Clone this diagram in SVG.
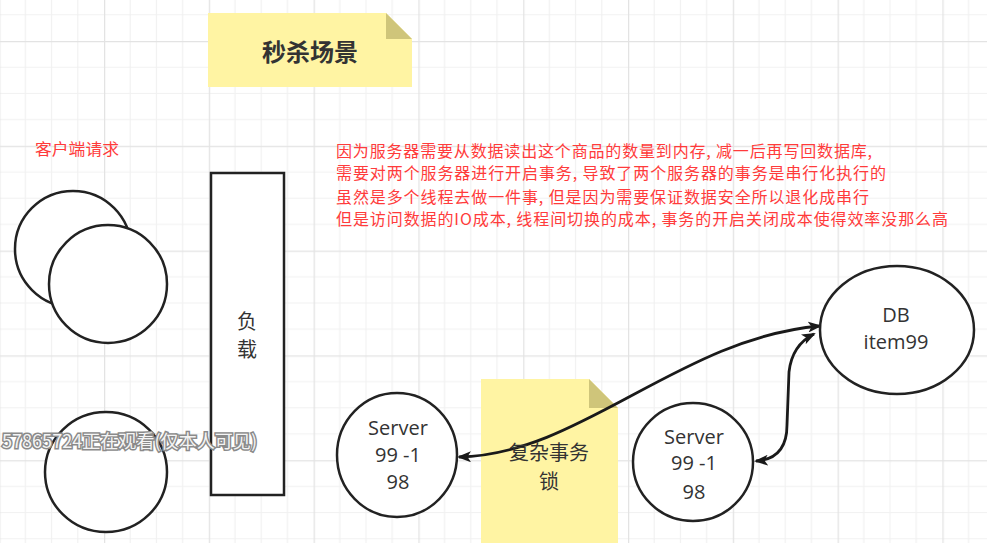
<svg xmlns="http://www.w3.org/2000/svg" width="987" height="543" viewBox="0 0 987 543">
<defs>
<pattern id="grid" x="104" y="41" width="104.8" height="104.8" patternUnits="userSpaceOnUse">
<path d="M26.2 0V104.8M52.4 0V104.8M78.6 0V104.8M0 26.2H104.8M0 52.4H104.8M0 78.6H104.8" stroke="#f1f1f1" stroke-width="1.2" fill="none"/>
<path d="M0.5 0V104.8M0 0.5H104.8" stroke="#e3e3e3" stroke-width="1.5" fill="none"/>
</pattern>
<marker id="arr" viewBox="0 0 14 11" refX="12" refY="5.5" markerWidth="14" markerHeight="11" markerUnits="userSpaceOnUse" orient="auto-start-reverse">
<path d="M0 0L14 5.5L0 11L3.5 5.5Z" fill="#1a1a1a"/>
</marker>
<style>
.shape{fill:#fff;stroke:#222;stroke-width:2.5}
.note{fill:#fff4a3}
.fold{fill:#cfc57a}
.lbl{font-family:"Open Sans","Noto Sans","Noto Sans CJK SC",sans-serif;font-size:20px;fill:#333;text-anchor:middle}
.red{font-family:"Noto Sans CJK SC","Noto Sans",sans-serif;font-size:16px;fill:#ff3b3b}
.edge{fill:none;stroke:#1a1a1a;stroke-width:2.8;marker-start:url(#arr);marker-end:url(#arr)}
</style>
</defs>
<rect width="987" height="543" fill="#fff"/>
<rect width="987" height="543" fill="url(#grid)"/>

<g id="title">
<path class="note" d="M208 13H386L412 39V87H208Z"/>
<path class="fold" d="M386 13L412 39H386Z"/>
<text x="310" y="61" text-anchor="middle" font-family="Noto Sans CJK SC,sans-serif" font-size="24" font-weight="bold" fill="#333">秒杀场景</text>
</g>

<g id="client-label">
<text class="red" x="35" y="155" textLength="84" lengthAdjust="spacingAndGlyphs">客户端请求</text>
</g>

<g id="explanation">
<text class="red" x="336" y="156.5" textLength="536" lengthAdjust="spacing">因为服务器需要从数据读出这个商品的数量到内存, 减一后再写回数据库,</text>
<text class="red" x="336" y="179" textLength="550" lengthAdjust="spacing">需要对两个服务器进行开启事务, 导致了两个服务器的事务是串行化执行的</text>
<text class="red" x="336" y="202.5" textLength="533" lengthAdjust="spacing">虽然是多个线程去做一件事, 但是因为需要保证数据安全所以退化成串行</text>
<text class="red" x="336" y="225" textLength="612" lengthAdjust="spacing">但是访问数据的IO成本, 线程间切换的成本, 事务的开启关闭成本使得效率没那么高</text>
</g>

<g id="client1"><ellipse class="shape" cx="73" cy="249" rx="58" ry="58"/></g>
<g id="client2"><ellipse class="shape" cx="108" cy="284" rx="59" ry="59"/></g>
<g id="client3"><ellipse class="shape" cx="106" cy="472" rx="61" ry="60"/></g>

<g id="loadbalancer">
<rect class="shape" x="211" y="173" width="73" height="322"/>
<text class="lbl" x="247" y="329" font-size="19">负</text>
<text class="lbl" x="247" y="357" font-size="19">载</text>
</g>

<g id="note-lock">
<path class="note" d="M481 379H589L618 408V543H481Z"/>
<path class="fold" d="M589 379L618 408H589Z"/>
</g>

<g id="connectors">
<path class="edge" d="M459 457C580 455 680 338 820 326"/>
<path class="edge" d="M756 461Q787 459 787 425L789 372Q792 345 814 334"/>
</g>

<g id="note-lock-text">
<text class="lbl" x="549" y="460">复杂事务</text>
<text class="lbl" x="549" y="489">锁</text>
</g>

<g id="server1">
<ellipse class="shape" cx="397" cy="455" rx="60" ry="62"/>
<text class="lbl" x="398" y="435">Server</text>
<text class="lbl" x="398" y="462">99 -1</text>
<text class="lbl" x="398" y="489">98</text>
</g>

<g id="server2">
<ellipse class="shape" cx="693" cy="462" rx="60" ry="59"/>
<text class="lbl" x="694" y="444">Server</text>
<text class="lbl" x="694" y="470">99 -1</text>
<text class="lbl" x="694" y="499">98</text>
</g>

<g id="db">
<ellipse class="shape" cx="897" cy="330" rx="77" ry="64"/>
<text class="lbl" x="896" y="322">DB</text>
<text class="lbl" x="896" y="349">item99</text>
</g>

<g id="watermark">
<text x="2" y="448" font-family="Noto Sans CJK SC,sans-serif" font-size="18" fill="#f4f4f4" stroke="#8a8a8a" stroke-width="3" paint-order="stroke" textLength="255" lengthAdjust="spacingAndGlyphs">57865724正在观看(仅本人可见)</text>
</g>
</svg>
